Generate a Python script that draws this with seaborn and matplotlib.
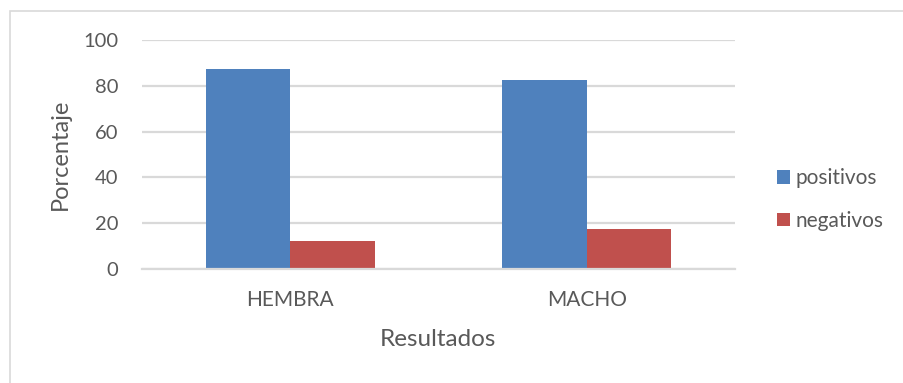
import matplotlib
matplotlib.use("Agg")
import matplotlib.pyplot as plt
from matplotlib.patches import Rectangle
import pandas as pd
import seaborn as sns

categories = ["HEMBRA", "MACHO"]
series_names = ["positivos", "negativos"]
positivos = [87.5, 82.6]
negativos = [12.5, 17.4]
y_ticks = [0, 20, 40, 60, 80, 100]

df = pd.DataFrame({
    "Resultados": categories * 2,
    "Serie": [series_names[0]] * len(categories) + [series_names[1]] * len(categories),
    "Porcentaje": positivos + negativos,
})

sns.set_theme(style="white")
plt.rcParams["font.family"] = ["Lato", "DejaVu Sans"]
text_color = "#595959"
grid_color = "#d9d9d9"

fig = plt.figure(figsize=(9.04, 3.83), dpi=100)
ax = fig.add_axes([0.157, 0.297, 0.656, 0.599])

sns.barplot(
    data=df, x="Resultados", y="Porcentaje", hue="Serie",
    palette=["#4f81bd", "#c0504d"], width=0.57, gap=0, ax=ax,
    saturation=1, edgecolor="none", legend=True,
)

ax.set_xlim(-0.5, 1.5)
ax.set_ylim(0, 100)
ax.set_yticks(y_ticks)
ax.set_yticklabels([str(t) for t in y_ticks])
ax.yaxis.grid(True, color=grid_color, linewidth=1.6)
ax.set_axisbelow(True)
for side in ["top", "right", "left"]:
    ax.spines[side].set_visible(False)
ax.spines["bottom"].set_color(grid_color)
ax.spines["bottom"].set_linewidth(1.6)
ax.tick_params(axis="both", length=0, colors=text_color)
ax.tick_params(axis="y", pad=17, labelsize=14.5)
ax.tick_params(axis="x", pad=15, labelsize=15)

ax.set_ylabel("Porcentaje", fontsize=17, color=text_color, va="center")
ax.yaxis.set_label_coords(-0.138, 0.5)
ax.set_xlabel("Resultados", fontsize=17.5, color=text_color, va="center")
ax.xaxis.set_label_coords(0.499, -0.308)

handles, labels = ax.get_legend_handles_labels()
ax.get_legend().remove()
fig.legend(
    handles, labels, loc="center left", bbox_to_anchor=(0.8595, 0.479),
    frameon=False, fontsize=15, handlelength=0.62, handleheight=0.62,
    handletextpad=0.28, labelspacing=1.1, borderpad=0, borderaxespad=0,
    labelcolor=text_color,
)

fig.patches.append(Rectangle((0.011, -0.05), 1.1, 1.021, transform=fig.transFigure,
                             fill=False, edgecolor=grid_color, linewidth=1.2))

fig.savefig("out.png", dpi=100)
